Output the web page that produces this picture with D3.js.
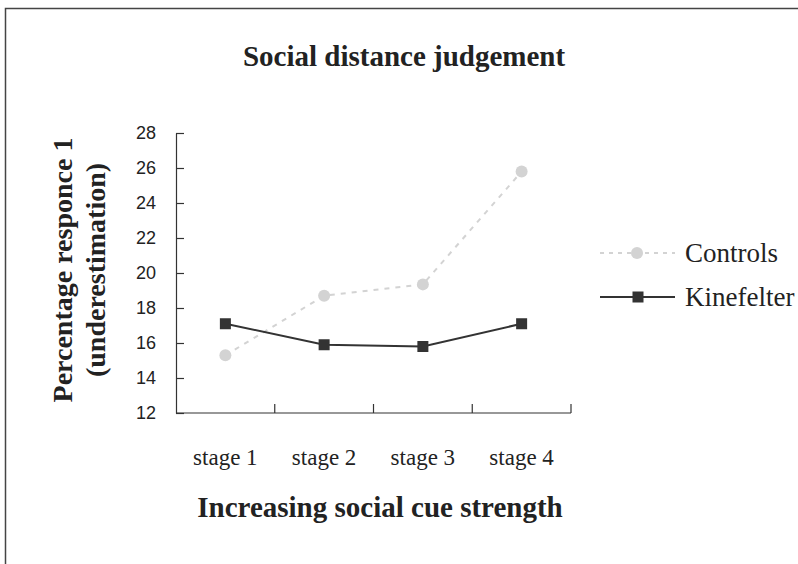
<!DOCTYPE html>
<html>
<head>
<meta charset="utf-8">
<script src="https://cdn.jsdelivr.net/npm/d3@7"></script>
<style>
  body { margin: 0; background: #fff; }
</style>
</head>
<body>
<div id="chart"></div>
<script>
const stages = [ 'stage 1', 'stage 2', 'stage 3', 'stage 4' ];
const seriesNames = [ 'Controls', 'Kinefelter' ];
const controls = [ 15.3, 18.7, 19.35, 25.8 ];
const kinefelter = [ 17.1, 15.9, 15.8, 17.1 ];
const yTicks = [ 12, 14, 16, 18, 20, 22, 24, 26, 28 ];

const serif = 'font-family: "Liberation Serif", serif;';
const sans = 'font-family: "Liberation Sans", Arial, sans-serif;';

const figure_width = 798, figure_height = 564;
const plot = { left: 176, top: 133, right: 571, bottom: 413 };

const svg = d3.select( 'div#chart' )
  .append( 'svg' )
    .attr( 'width', figure_width )
    .attr( 'height', figure_height );

// frame (left and top edges visible)
svg.append( 'path' )
  .attr( 'd', 'M5.5,' + figure_height + ' L5.5,8.5 L' + figure_width + ',8.5' )
  .attr( 'fill', 'none' )
  .attr( 'stroke', '#444' )
  .attr( 'stroke-width', 1.5 );

const x = d3.scaleBand()
  .domain( stages )
  .range( [ plot.left, plot.right ] );

const y = d3.scaleLinear()
  .domain( [ 12, 28 ] )
  .range( [ plot.bottom, plot.top ] );

// y axis, ticks inside
const yAxis = svg.append( 'g' )
  .attr( 'transform', 'translate(' + plot.left + ',0)' )
  .call( d3.axisRight( y ).tickValues( yTicks ).tickSize( 8 ).tickSizeOuter( 0 ).tickFormat( d3.format( 'd' ) ) );
yAxis.selectAll( 'text' )
  .attr( 'x', -20 )
  .attr( 'text-anchor', 'end' )
  .attr( 'fill', '#222' )
  .attr( 'style', sans + 'font-size:18px;' );
yAxis.selectAll( 'line, path' ).attr( 'stroke', '#333' ).attr( 'stroke-width', 1.2 );

// x axis, ticks at band edges pointing up
const xAxis = svg.append( 'g' )
  .attr( 'transform', 'translate(0,' + plot.bottom + ')' );
xAxis.append( 'line' )
  .attr( 'x1', plot.left ).attr( 'x2', plot.right )
  .attr( 'stroke', '#333' ).attr( 'stroke-width', 1.2 );
const edges = stages.map( s => x( s ) ).concat( [ plot.right ] );
xAxis.selectAll( 'line.tick' )
  .data( edges.slice( 1 ) )
  .enter().append( 'line' )
    .attr( 'class', 'tick' )
    .attr( 'x1', d => d ).attr( 'x2', d => d )
    .attr( 'y1', 0 ).attr( 'y2', -9 )
    .attr( 'stroke', '#333' ).attr( 'stroke-width', 1.2 );
xAxis.selectAll( 'text' )
  .data( stages )
  .enter().append( 'text' )
    .attr( 'x', d => x( d ) + x.bandwidth() / 2 )
    .attr( 'y', 52 )
    .attr( 'text-anchor', 'middle' )
    .attr( 'fill', '#222' )
    .attr( 'style', serif + 'font-size:23px;' )
    .text( d => d );

const cx = d => x( d ) + x.bandwidth() / 2;

// Controls
const ctrlData = stages.map( ( s, i ) => ( { s: s, v: controls[ i ] } ) );
const kinData = stages.map( ( s, i ) => ( { s: s, v: kinefelter[ i ] } ) );
const line = d3.line().x( d => cx( d.s ) ).y( d => y( d.v ) );

svg.append( 'path' )
  .datum( ctrlData )
  .attr( 'd', line )
  .attr( 'fill', 'none' )
  .attr( 'stroke', '#d3d3d3' )
  .attr( 'stroke-width', 2 )
  .attr( 'stroke-dasharray', '5,6' );

svg.append( 'path' )
  .datum( kinData )
  .attr( 'd', line )
  .attr( 'fill', 'none' )
  .attr( 'stroke', '#333' )
  .attr( 'stroke-width', 2 );

svg.selectAll( 'circle.ctrl' )
  .data( ctrlData )
  .enter().append( 'circle' )
    .attr( 'class', 'ctrl' )
    .attr( 'cx', d => cx( d.s ) )
    .attr( 'cy', d => y( d.v ) )
    .attr( 'r', 6 )
    .attr( 'fill', '#d3d3d3' );

const sq = 11;
svg.selectAll( 'rect.kin' )
  .data( kinData )
  .enter().append( 'rect' )
    .attr( 'class', 'kin' )
    .attr( 'x', d => cx( d.s ) - sq / 2 )
    .attr( 'y', d => y( d.v ) - sq / 2 )
    .attr( 'width', sq )
    .attr( 'height', sq )
    .attr( 'fill', '#333' );

// Title
svg.append( 'text' )
  .attr( 'x', 404 ).attr( 'y', 66 )
  .attr( 'text-anchor', 'middle' )
  .attr( 'fill', '#222' )
  .attr( 'style', serif + 'font-size:29px; font-weight:bold;' )
  .text( 'Social distance judgement' );

// x axis title
svg.append( 'text' )
  .attr( 'x', 380 ).attr( 'y', 517 )
  .attr( 'text-anchor', 'middle' )
  .attr( 'fill', '#222' )
  .attr( 'style', serif + 'font-size:29px; font-weight:bold;' )
  .text( 'Increasing social cue strength' );

// y axis title, two lines
const yTitle = svg.append( 'text' )
  .attr( 'transform', 'translate(72,270) rotate(-90)' )
  .attr( 'text-anchor', 'middle' )
  .attr( 'fill', '#222' )
  .attr( 'style', serif + 'font-size:28px; font-weight:bold;' );
yTitle.append( 'tspan' ).attr( 'x', 0 ).attr( 'y', 0 ).text( 'Percentage responce 1' );
yTitle.append( 'tspan' ).attr( 'x', 0 ).attr( 'y', 33 ).text( '(underestimation)' );

// legend
const legendY = [ 253, 297 ];
const legend = svg.selectAll( 'g.legend' )
  .data( seriesNames )
  .enter().append( 'g' )
    .attr( 'class', 'legend' )
    .attr( 'transform', ( d, i ) => 'translate(600,' + legendY[ i ] + ')' );
legend.append( 'line' )
  .attr( 'x1', 0 ).attr( 'x2', 75 )
  .attr( 'stroke', ( d, i ) => i === 0 ? '#d3d3d3' : '#333' )
  .attr( 'stroke-width', 2 )
  .attr( 'stroke-dasharray', ( d, i ) => i === 0 ? '4,5' : null );
legend.filter( ( d, i ) => i === 0 ).append( 'circle' )
  .attr( 'cx', 37 ).attr( 'r', 6 ).attr( 'fill', '#d3d3d3' );
legend.filter( ( d, i ) => i === 1 ).append( 'rect' )
  .attr( 'x', 38 - sq / 2 ).attr( 'y', -sq / 2 )
  .attr( 'width', sq ).attr( 'height', sq ).attr( 'fill', '#333' );
legend.append( 'text' )
  .attr( 'x', 85 ).attr( 'y', 9 )
  .attr( 'fill', '#222' )
  .attr( 'style', serif + 'font-size:27px;' )
  .text( d => d );
</script>
</body>
</html>
